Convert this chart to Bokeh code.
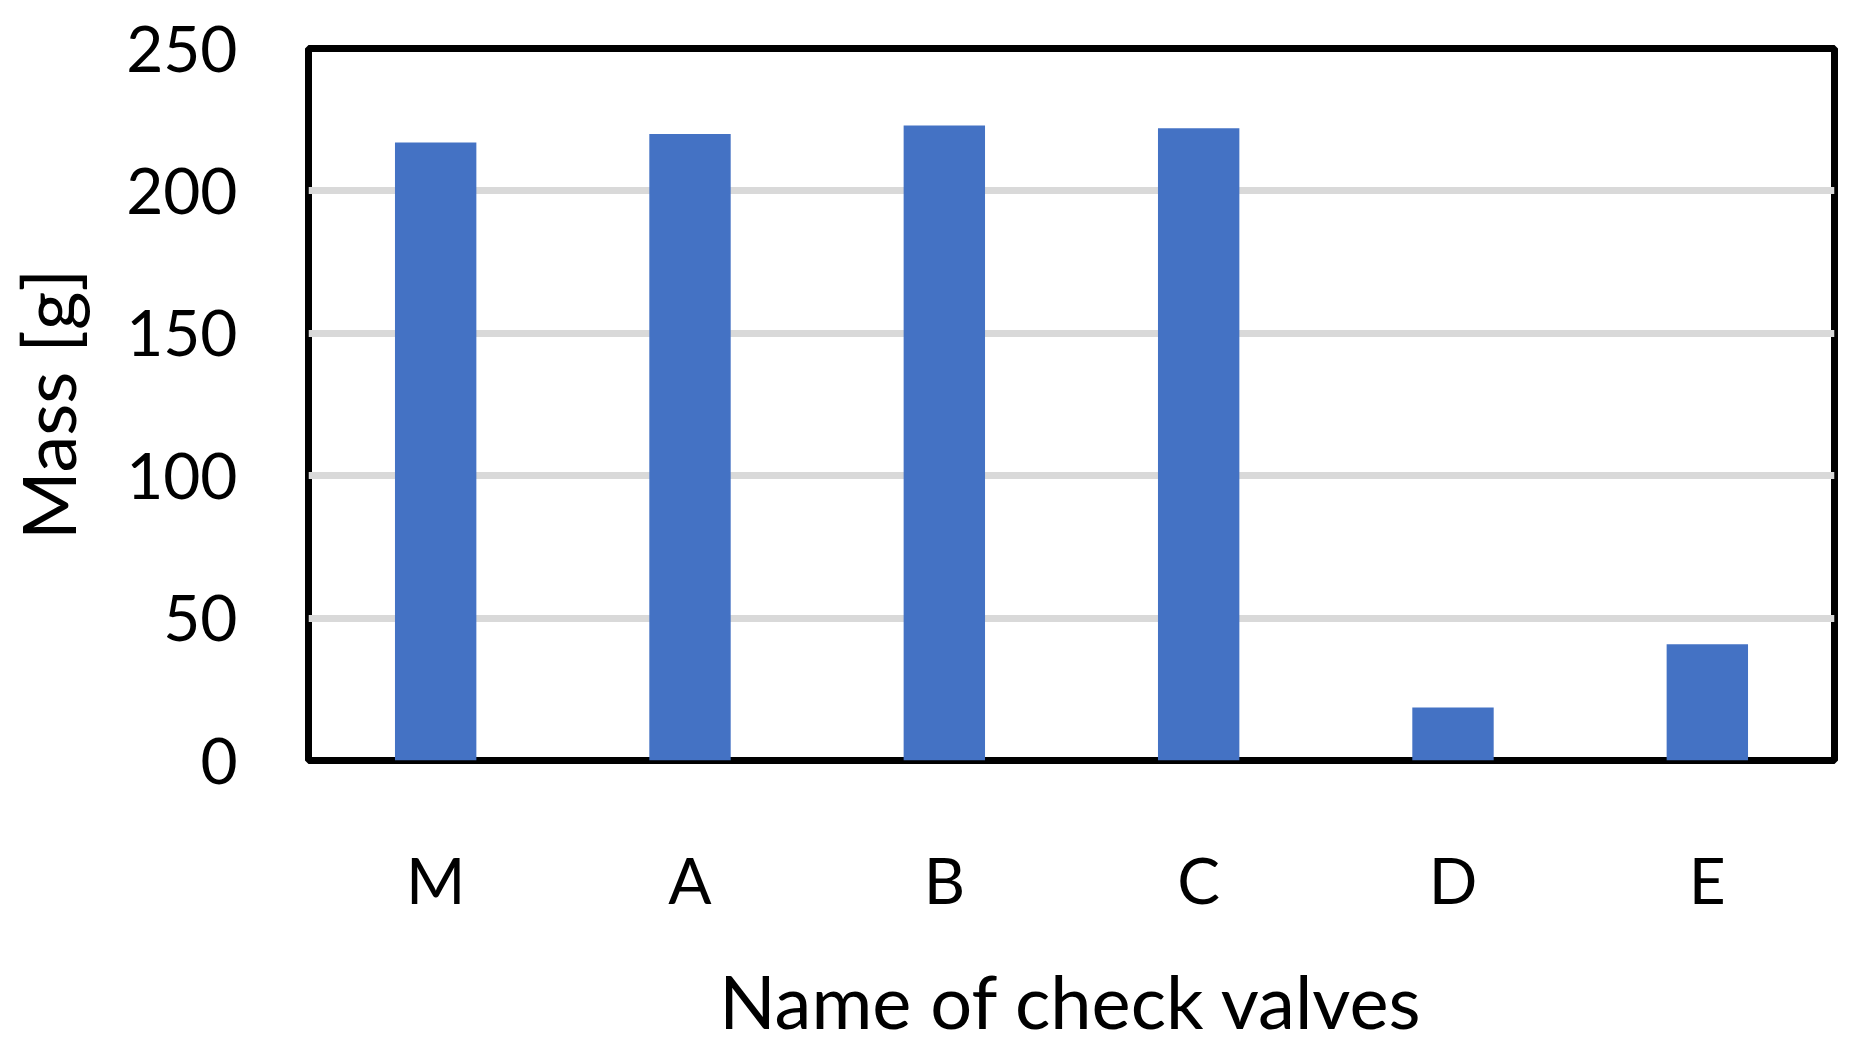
from bokeh.plotting import figure
from bokeh.models import Range1d, FactorRange, FixedTicker, ColumnDataSource
from bokeh.embed import file_html
from bokeh.resources import INLINE

categories = ["M", "A", "B", "C", "D", "E"]
mass_g = [217, 220, 223, 222, 18.6, 40.8]
y_ticks = [0, 50, 100, 150, 200, 250]

FONT = "Lato"

src = ColumnDataSource(dict(cat=categories, mass=mass_g))

p = figure(width=1842, height=1047, x_range=FactorRange(*categories),
           y_range=Range1d(0, 250), output_backend="svg", toolbar_location=None,
           min_border_left=306, min_border_right=8, min_border_top=48,
           min_border_bottom=286)

p.vbar(x="cat", top="mass", width=0.32, source=src, color="#4472c4", line_color=None)

p.outline_line_color = "black"
p.outline_line_width = 7
p.outline_line_alpha = 1.0

p.xgrid.grid_line_color = None
p.ygrid.grid_line_color = "#d9d9d9"
p.ygrid.grid_line_width = 7

p.yaxis.ticker = FixedTicker(ticks=y_ticks)
for ax in (p.xaxis, p.yaxis):
    ax.axis_line_color = None
    ax.major_tick_line_color = None
    ax.minor_tick_line_color = None
    ax.major_tick_in = 0
    ax.major_tick_out = 0
    ax.major_label_text_font = FONT
    ax.major_label_text_font_size = "64px"
    ax.major_label_text_color = "black"
    ax.axis_label_text_font = FONT
    ax.axis_label_text_font_size = "74px"
    ax.axis_label_text_font_style = "normal"
    ax.axis_label_text_color = "black"

p.xaxis.axis_label = "Name of check valves"
p.yaxis.axis_label = "Mass [g]"
p.xaxis.major_label_standoff = 80
p.yaxis.major_label_standoff = 71
p.xaxis.axis_label_standoff = 35
p.yaxis.axis_label_standoff = 31

open("out.html", "w").write(file_html(p, INLINE))
